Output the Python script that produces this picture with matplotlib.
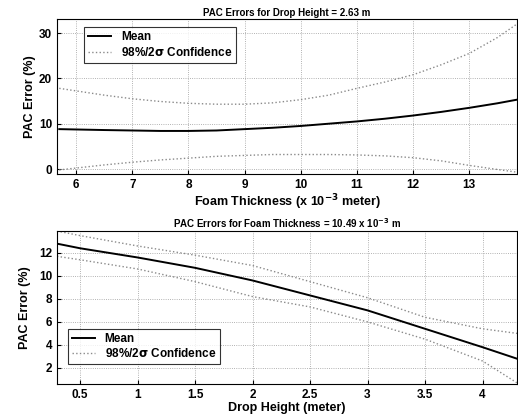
#PAC error plots vs foam thickness and drop height
import matplotlib
matplotlib.use('Agg')
import matplotlib.pyplot as plt
import numpy as np

plt.rcParams['font.family'] = ['Liberation Sans', 'DejaVu Sans']
plt.rcParams['font.weight'] = 'bold'
plt.rcParams['mathtext.default'] = 'bf'

#Top panel data (foam thickness, x 10^-3 m)
thick = [5.7, 6.5, 7, 7.5, 8, 8.5, 9, 9.5, 10, 10.5, 11, 11.5, 12, 12.5, 13, 13.5, 13.85]
thick_mean = [8.8, 8.6, 8.5, 8.4, 8.4, 8.5, 8.8, 9.1, 9.5, 10.0, 10.5, 11.1, 11.8, 12.6, 13.5, 14.5, 15.3]
thick_upper = [17.8, 16.3, 15.5, 14.9, 14.5, 14.3, 14.3, 14.6, 15.3, 16.3, 17.8, 19.2, 20.8, 23.0, 25.5, 29.0, 32.0]
thick_lower = [-0.2, 0.9, 1.5, 2.0, 2.4, 2.8, 3.0, 3.2, 3.2, 3.2, 3.1, 2.9, 2.5, 1.8, 0.8, -0.1, -0.7]

#Bottom panel data (drop height, m)
height = [0.3, 0.5, 1, 1.5, 2, 2.5, 3, 3.5, 4, 4.3]
height_mean = [12.8, 12.4, 11.6, 10.7, 9.6, 8.3, 7.0, 5.4, 3.8, 2.8]
height_upper = [13.9, 13.5, 12.6, 11.8, 10.9, 9.5, 8.1, 6.4, 5.4, 5.0]
height_lower = [11.7, 11.4, 10.6, 9.5, 8.2, 7.3, 6.0, 4.5, 2.6, 0.7]

line_width = 1.4
conf_color = '#8a8a8a'

fig = plt.figure(figsize=(5.18, 4.19), dpi=100)

ax1 = fig.add_axes([57/518., 1-174/419., 460/518., 155/419.])
ax1.plot(thick, thick_mean, 'k-', linewidth=line_width, label='Mean')
ax1.plot(thick, thick_upper, ':', color=conf_color, linewidth=1.0, label=r'98%/2$\sigma$ Confidence')
ax1.plot(thick, thick_lower, ':', color=conf_color, linewidth=1.0)
ax1.set_xlim(5.66, 13.85)
ax1.set_ylim(-1.1, 33.1)
ax1.set_xticks(range(6, 14))
ax1.set_yticks([0, 10, 20, 30])
ax1.grid(True, linestyle=':', color='#999999', linewidth=0.6)
ax1.set_title('PAC Errors for Drop Height = 2.63 m', fontsize=7, fontweight='bold', pad=2)
ax1.set_xlabel(r'Foam Thickness (x 10$^{-3}$ meter)', fontsize=9, fontweight='bold', labelpad=1)
ax1.set_ylabel('PAC Error (%)', fontsize=9, fontweight='bold', labelpad=2)
ax1.tick_params(labelsize=8.5, direction='in', length=3)
leg = ax1.legend(loc='upper left', bbox_to_anchor=(0.045, 0.985), fontsize=8.5, frameon=True,
                 fancybox=False, edgecolor='k', handlelength=2.0, borderpad=0.35, labelspacing=0.2)
leg.get_frame().set_linewidth(0.8)

ax2 = fig.add_axes([57/518., 1-384/419., 460/518., 153/419.])
ax2.plot(height, height_mean, 'k-', linewidth=line_width, label='Mean')
ax2.plot(height, height_upper, ':', color=conf_color, linewidth=1.0, label=r'98%/2$\sigma$ Confidence')
ax2.plot(height, height_lower, ':', color=conf_color, linewidth=1.0)
ax2.set_xlim(0.3, 4.3)
ax2.set_ylim(0.6, 13.9)
ax2.set_xticks([0.5, 1, 1.5, 2, 2.5, 3, 3.5, 4])
ax2.set_xticklabels(['0.5', '1', '1.5', '2', '2.5', '3', '3.5', '4'])
ax2.set_yticks([2, 4, 6, 8, 10, 12])
ax2.grid(True, linestyle=':', color='#999999', linewidth=0.6)
ax2.set_title(r'PAC Errors for Foam Thickness = 10.49 x 10$^{-3}$ m', fontsize=7, fontweight='bold', pad=2)
ax2.set_xlabel('Drop Height (meter)', fontsize=9, fontweight='bold', labelpad=1)
ax2.set_ylabel('PAC Error (%)', fontsize=9, fontweight='bold', labelpad=6)
ax2.tick_params(labelsize=8.5, direction='in', length=3)
leg2 = ax2.legend(loc='lower left', bbox_to_anchor=(0.01, 0.09), fontsize=8.5, frameon=True,
                  fancybox=False, edgecolor='k', handlelength=2.0, borderpad=0.35, labelspacing=0.2)
leg2.get_frame().set_linewidth(0.8)

fig.savefig('out.png', dpi=100)
